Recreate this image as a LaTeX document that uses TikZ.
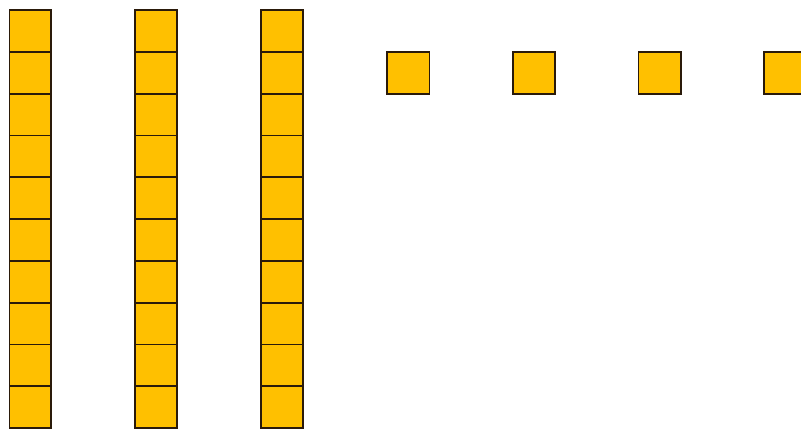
\documentclass[tikz,border=0pt]{standalone}
\definecolor{cellfill}{HTML}{FFC000}
\definecolor{celledge}{HTML}{2A1A0A}
\begin{document}
\begin{tikzpicture}[x=1pt,y=-1pt,
  cell/.style={fill=cellfill,draw=celledge,line width=1.8pt,line join=miter}]
\useasboundingbox (0,0) rectangle (801,432);
% three rods of ten
\foreach \c in {0,1,2}{
  \foreach \r in {0,...,9}{
    \filldraw[cell] ({9.5+125.8*\c},{10+41.8*\r}) rectangle ++(41.5,41.8);
  }
}
% four unit cubes
\foreach \c in {3,4,5,6}{
  \filldraw[cell] ({9.5+125.8*\c},51.8) rectangle ++(42.5,42.2);
}
\end{tikzpicture}
\end{document}
